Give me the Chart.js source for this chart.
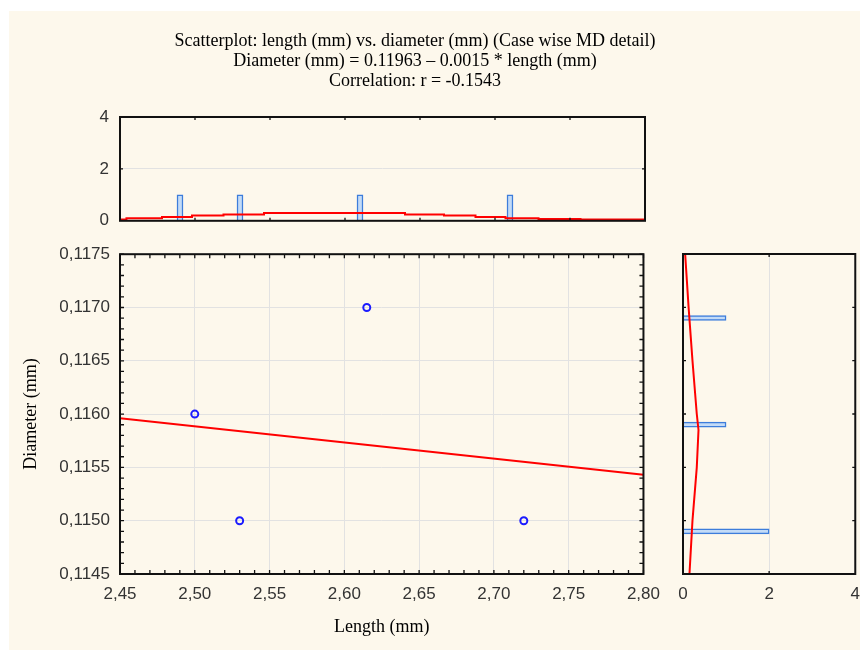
<!DOCTYPE html>
<html>
<head>
<meta charset="utf-8">
<script src="https://cdn.jsdelivr.net/npm/chart.js@4.4.1/dist/chart.umd.min.js"></script>
<style>
  html, body { margin: 0; padding: 0; background: #ffffff; width: 860px; height: 650px; overflow: hidden; position: relative; }
  #bg { position: absolute; left: 9px; top: 11px; right: 0; bottom: 0; background: #fdf8ec; }
  canvas { position: absolute; }
  #topHist { left: 0; top: 0; }
  #mainPlot { left: 0; top: 234px; }
  #rightHist { left: 660px; top: 240px; }
</style>
</head>
<body>
<div id="bg"></div>
<canvas id="topHist" width="830" height="242"></canvas>
<canvas id="mainPlot" width="670" height="416"></canvas>
<canvas id="rightHist" width="210" height="410"></canvas>
<script>
// ---------- data ----------
const titleLines = [
  'Scatterplot: length (mm) vs. diameter (mm) (Case wise MD detail)',
  'Diameter (mm) = 0.11963 \u2013 0.0015 * length (mm)',
  'Correlation: r = -0.1543'
];
const xAxisTitle = 'Length (mm)';
const yAxisTitle = 'Diameter (mm)';

// scatter points
const lengthValues   = [2.50, 2.53, 2.615, 2.72];
const diameterValues = [0.1160, 0.1150, 0.1170, 0.1150];

// regression line end points
const fitLength   = [2.45, 2.80];
const fitDiameter = [0.11596, 0.11543];

// top histogram (length)
const lengthBinCenters = [2.49, 2.53, 2.61, 2.71];
const lengthBinCounts  = [1, 1, 1, 1];
const lengthCurveX = [2.45, 2.4543, 2.478, 2.498, 2.519, 2.546, 2.640, 2.666, 2.687, 2.707, 2.729, 2.757, 2.80];
const lengthCurveY = [0.05, 0.10, 0.15, 0.20, 0.24, 0.30, 0.24, 0.20, 0.15, 0.10, 0.07, 0.05, 0.05];

// right histogram (diameter)
const diameterBinCenters = [0.1149, 0.1159, 0.1169];
const diameterBinCounts  = [2, 1, 1];
const diameterCurveY = [0.1175, 0.1170, 0.1165, 0.1160, 0.11585, 0.1155, 0.1150, 0.1145];
const diameterCurveX = [0.05, 0.13, 0.22, 0.32, 0.36, 0.32, 0.22, 0.15];

// tick labels
const lengthTicks   = [2.45, 2.50, 2.55, 2.60, 2.65, 2.70, 2.75, 2.80];
const diameterTicks = [0.1145, 0.1150, 0.1155, 0.1160, 0.1165, 0.1170, 0.1175];
const countTicks    = [0, 2, 4];

// ---------- styling helpers ----------
const SANS = "'Liberation Sans', Arial, sans-serif";
const SERIF = "'Liberation Serif', 'Times New Roman', serif";
const tickFont = { family: SANS, size: 17 };
const tickColor = '#333333';
const gridColor = '#e2e2e2';
const comma = (v, d) => v.toFixed(d).replace('.', ',');

function stepsBetween(min, max, step) {
  const out = [];
  const n = Math.round((max - min) / step);
  for (let i = 0; i <= n; i++) out.push(min + i * step);
  return out;
}

const frameTicks = {
  id: 'frameTicks',
  afterDatasetsDraw(chart, args, opts) {
    const { ctx, chartArea: a } = chart;
    const xs = chart.scales.x, ys = chart.scales.y;
    const len = opts.len || 4;
    ctx.save();
    ctx.strokeStyle = '#111';
    ctx.lineWidth = 1.3;
    ctx.beginPath();
    (opts.xValues || []).forEach(v => {
      const p = xs.getPixelForValue(v);
      ctx.moveTo(p, a.bottom); ctx.lineTo(p, a.bottom - len);
      ctx.moveTo(p, a.top); ctx.lineTo(p, a.top + len);
    });
    (opts.yValues || []).forEach(v => {
      const p = ys.getPixelForValue(v);
      ctx.moveTo(a.left, p); ctx.lineTo(a.left + len, p);
      ctx.moveTo(a.right, p); ctx.lineTo(a.right - len, p);
    });
    ctx.stroke();
    ctx.lineWidth = 2;
    ctx.strokeStyle = '#111';
    ctx.strokeRect(a.left, a.top, a.right - a.left, a.bottom - a.top);
    ctx.restore();
  }
};

Chart.defaults.animation = false;
Chart.defaults.responsive = false;
Chart.defaults.maintainAspectRatio = false;

// ---------- top histogram ----------
new Chart(document.getElementById('topHist'), {
  type: 'bar',
  data: {
    datasets: [
      {
        type: 'line',
        order: 0,
        data: lengthCurveX.map((x, i) => ({ x, y: lengthCurveY[i] })),
        borderColor: '#ff0000',
        borderWidth: 2,
        pointRadius: 0,
        stepped: 'before',
        fill: false
      },
      {
        type: 'bar',
        order: 1,
        data: lengthBinCenters.map((x, i) => ({ x, y: lengthBinCounts[i] })),
        backgroundColor: '#c3dbf7',
        borderColor: '#3d7ddb',
        borderWidth: 1.5,
        barThickness: 6
      }
    ]
  },
  options: {
    layout: { padding: { left: 0, right: 0, top: 0, bottom: 0 } },
    plugins: {
      legend: { display: false },
      tooltip: { enabled: false },
      title: {
        display: true,
        text: titleLines,
        color: '#000',
        font: { family: SERIF, size: 18, weight: 'normal', lineHeight: 1.111 },
        padding: { top: 31, bottom: 26 }
      },
      frameTicks: {
        len: 3,
        xValues: lengthTicks.slice(1, -1),
        yValues: [2]
      }
    },
    scales: {
      x: {
        type: 'linear',
        min: lengthTicks[0],
        max: lengthTicks[lengthTicks.length - 1],
        offset: false,
        display: false,
        grid: { offset: false }
      },
      y: {
        type: 'linear',
        position: 'left',
        min: 0,
        max: 4,
        afterBuildTicks: s => { s.ticks = countTicks.map(v => ({ value: v })); },
        afterFit: s => { s.width = 120; },
        grid: { color: gridColor, drawTicks: false },
        border: { display: false },
        ticks: { font: tickFont, color: tickColor, padding: 11, callback: v => String(v) }
      },
      yPad: {
        type: 'linear',
        position: 'right',
        display: true,
        afterFit: s => { s.width = 185; },
        grid: { display: false },
        border: { display: false },
        ticks: { display: false }
      }
    }
  },
  plugins: [frameTicks]
});

// ---------- main scatter plot ----------
new Chart(document.getElementById('mainPlot'), {
  type: 'scatter',
  data: {
    datasets: [
      {
        type: 'line',
        data: fitLength.map((x, i) => ({ x, y: fitDiameter[i] })),
        borderColor: '#ff0000',
        borderWidth: 2,
        pointRadius: 0,
        fill: false
      },
      {
        type: 'scatter',
        data: lengthValues.map((x, i) => ({ x, y: diameterValues[i] })),
        borderColor: '#1c1cff',
        backgroundColor: 'rgba(255,255,255,0)',
        borderWidth: 2,
        pointRadius: 3.5
      }
    ]
  },
  options: {
    layout: { padding: { left: 20, right: 0, top: 0, bottom: 12 } },
    plugins: {
      legend: { display: false },
      tooltip: { enabled: false },
      frameTicks: {
        len: 4,
        xValues: stepsBetween(lengthTicks[0], lengthTicks[lengthTicks.length - 1], 0.01),
        yValues: stepsBetween(diameterTicks[0], diameterTicks[diameterTicks.length - 1], 0.0001)
      }
    },
    scales: {
      x: {
        type: 'linear',
        min: lengthTicks[0],
        max: lengthTicks[lengthTicks.length - 1],
        afterBuildTicks: s => { s.ticks = lengthTicks.map(v => ({ value: v })); },
        afterFit: s => { s.height = 64; },
        grid: { color: gridColor, drawTicks: false },
        border: { display: false },
        ticks: { font: tickFont, color: tickColor, padding: 10, maxRotation: 0, callback: v => comma(v, 2) },
        title: {
          display: true,
          text: xAxisTitle,
          color: '#000',
          font: { family: SERIF, size: 18, weight: 'normal' },
          padding: 0
        }
      },
      y: {
        type: 'linear',
        min: diameterTicks[0],
        max: diameterTicks[diameterTicks.length - 1],
        afterBuildTicks: s => { s.ticks = diameterTicks.map(v => ({ value: v })); },
        afterFit: s => { s.width = 100; },
        grid: { color: gridColor, drawTicks: false },
        border: { display: false },
        ticks: { font: tickFont, color: tickColor, padding: 10, callback: v => comma(v, 4) },
        title: {
          display: true,
          text: yAxisTitle,
          color: '#000',
          font: { family: SERIF, size: 18, weight: 'normal' },
          padding: 0
        }
      }
    }
  },
  plugins: [frameTicks]
});

// ---------- right histogram ----------
new Chart(document.getElementById('rightHist'), {
  type: 'bar',
  data: {
    datasets: [
      {
        type: 'line',
        order: 0,
        data: diameterCurveY.map((y, i) => ({ x: diameterCurveX[i], y })),
        borderColor: '#ff0000',
        borderWidth: 2,
        pointRadius: 0,
        fill: false
      },
      {
        type: 'bar',
        order: 1,
        data: diameterBinCenters.map((y, i) => ({ x: diameterBinCounts[i], y })),
        backgroundColor: '#c3dbf7',
        borderColor: '#3d7ddb',
        borderWidth: 1.5,
        barThickness: 5
      }
    ]
  },
  options: {
    indexAxis: 'y',
    layout: { padding: { left: 23, right: 4, top: 14, bottom: 0 } },
    plugins: {
      legend: { display: false },
      tooltip: { enabled: false },
      frameTicks: {
        len: 3,
        xValues: [2],
        yValues: diameterTicks.slice(1, -1)
      }
    },
    scales: {
      x: {
        type: 'linear',
        min: 0,
        max: 4,
        afterBuildTicks: s => { s.ticks = countTicks.map(v => ({ value: v })); },
        afterFit: s => { s.height = 76; },
        grid: { color: gridColor, drawTicks: false },
        border: { display: false },
        ticks: { font: tickFont, color: tickColor, padding: 10, maxRotation: 0, callback: v => String(v) }
      },
      y: {
        type: 'linear',
        min: diameterTicks[0],
        max: diameterTicks[diameterTicks.length - 1],
        offset: false,
        display: false,
        grid: { offset: false }
      }
    }
  },
  plugins: [frameTicks]
});
</script>
</body>
</html>
